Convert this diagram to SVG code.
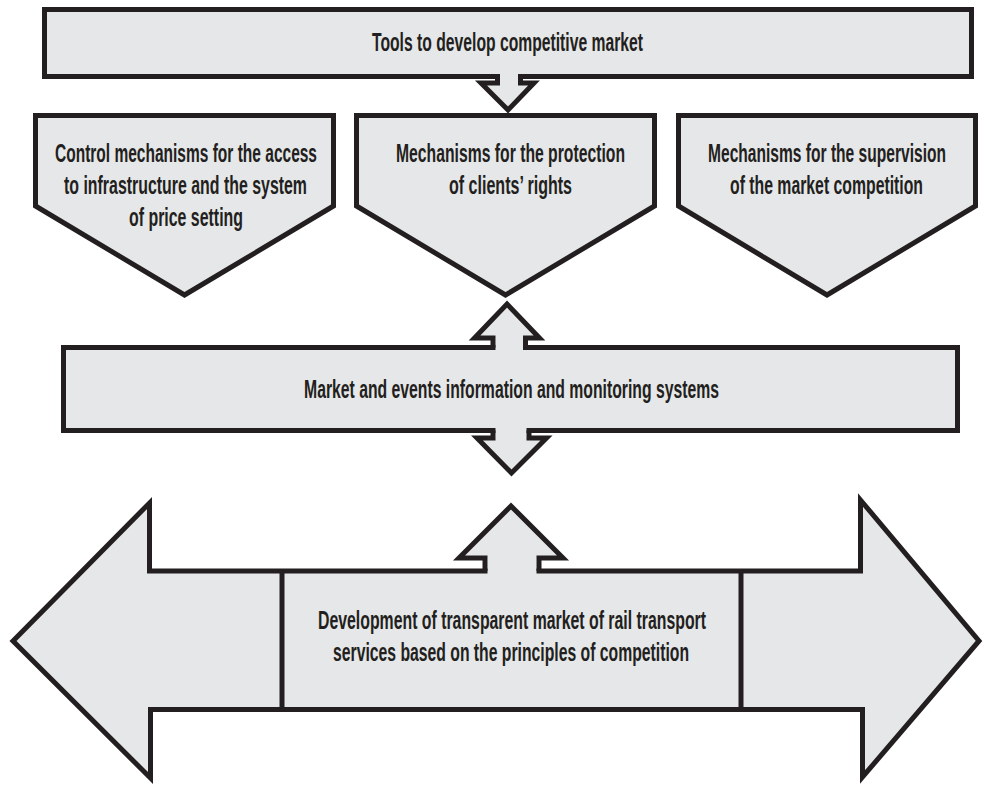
<svg xmlns="http://www.w3.org/2000/svg" width="984" height="786" viewBox="0 0 984 786">
  <style>
    .box { fill: #e6e7e8; stroke: #231f20; stroke-width: 5; stroke-linejoin: miter; stroke-miterlimit: 10; }
    .line { fill: none; stroke: #231f20; stroke-width: 5; stroke-linejoin: miter; stroke-miterlimit: 10; }
    .patch { fill: #e6e7e8; stroke: none; }
    .lbl { font-family: "Liberation Sans Narrow", "Liberation Sans", Arial, sans-serif; font-size: 18px; font-weight: bold; fill: #231f20; text-anchor: middle; }
  </style>
  <rect width="984" height="786" fill="#ffffff"/>

  <!-- top banner -->
  <g id="tools">
    <rect class="box" x="44.5" y="9.5" width="927" height="67"/>
    <text class="lbl" transform="translate(507.5,51) scale(1,1.445)" textLength="271" lengthAdjust="spacingAndGlyphs">Tools to develop competitive market</text>
  </g>

  <!-- three mechanism pentagons -->
  <g id="access-control">
    <path class="box" d="M35.5,115.5 H333.5 V206 L184.5,295 L35.5,206 Z"/>
    <text class="lbl" transform="translate(186,162) scale(1,1.445)" textLength="262" lengthAdjust="spacingAndGlyphs">Control mechanisms for the access</text>
    <text class="lbl" transform="translate(185.5,194) scale(1,1.445)" textLength="243" lengthAdjust="spacingAndGlyphs">to infrastructure and the system</text>
    <text class="lbl" transform="translate(186,226) scale(1,1.445)" textLength="114" lengthAdjust="spacingAndGlyphs">of price setting</text>
  </g>
  <g id="client-protection">
    <path class="box" d="M356.5,115.5 H654.5 V206 L505.5,295 L356.5,206 Z"/>
    <text class="lbl" transform="translate(510.5,162) scale(1,1.445)" textLength="229" lengthAdjust="spacingAndGlyphs">Mechanisms for the protection</text>
    <text class="lbl" transform="translate(510.5,194) scale(1,1.445)" textLength="123" lengthAdjust="spacingAndGlyphs">of clients’ rights</text>
  </g>
  <g id="competition-supervision">
    <path class="box" d="M678.5,115.5 H975.5 V206 L827,295 L678.5,206 Z"/>
    <text class="lbl" transform="translate(827,162) scale(1,1.445)" textLength="238" lengthAdjust="spacingAndGlyphs">Mechanisms for the supervision</text>
    <text class="lbl" transform="translate(826.5,194) scale(1,1.445)" textLength="193" lengthAdjust="spacingAndGlyphs">of the market competition</text>
  </g>

  <!-- information bar -->
  <g id="monitoring">
    <rect class="box" x="63.5" y="347.5" width="894" height="83"/>
    <text class="lbl" transform="translate(511.5,398) scale(1,1.445)" textLength="415" lengthAdjust="spacingAndGlyphs">Market and events information and monitoring systems</text>
  </g>

  <!-- double-headed goal arrow -->
  <g id="transparent-market">
    <path class="box" d="M13,641 L149.5,503 V571 H860.5 V500 L979,641 L862.5,777 V709.5 H150.5 V778 Z"/>
    <path class="line" d="M282,571 V709.5 M741,571 V709.5"/>
    <text class="lbl" transform="translate(512,629) scale(1,1.445)" textLength="388" lengthAdjust="spacingAndGlyphs">Development of transparent market of rail transport</text>
    <text class="lbl" transform="translate(511,661) scale(1,1.445)" textLength="356" lengthAdjust="spacingAndGlyphs">services based on the principles of competition</text>
  </g>

  <!-- block arrows joining the nodes -->
  <g id="connectors">
    <g id="tools-to-mechanisms">
      <path class="patch" d="M500,73 H518 V83 H534 L508,110 L481,83 H500 Z"/>
      <path class="line" d="M497.5,76.5 V83 H481 L508,110 L534,83 H520.5 V76.5"/>
    </g>
    <g id="monitoring-to-mechanisms">
      <path class="patch" d="M495.5,351 V338 H474.5 L507,304 L539.5,338 H523 V351 Z"/>
      <path class="line" d="M493,347.5 V338 H474.5 L507,304 L539.5,338 H525.5 V347.5"/>
    </g>
    <g id="monitoring-to-market">
      <path class="patch" d="M495.5,427 H526.5 V438 H546.5 L511.5,473 L477,438 H495.5 Z"/>
      <path class="line" d="M493,430.5 V438 H477 L511.5,473 L546.5,438 H529 V430.5"/>
    </g>
    <g id="market-to-monitoring">
      <path class="patch" d="M487.5,574.5 V558 H459 L511,506 L563,558 H536.5 V574.5 Z"/>
      <path class="line" d="M485,571 V558 H459 L511,506 L563,558 H539 V571"/>
    </g>
  </g>
</svg>
